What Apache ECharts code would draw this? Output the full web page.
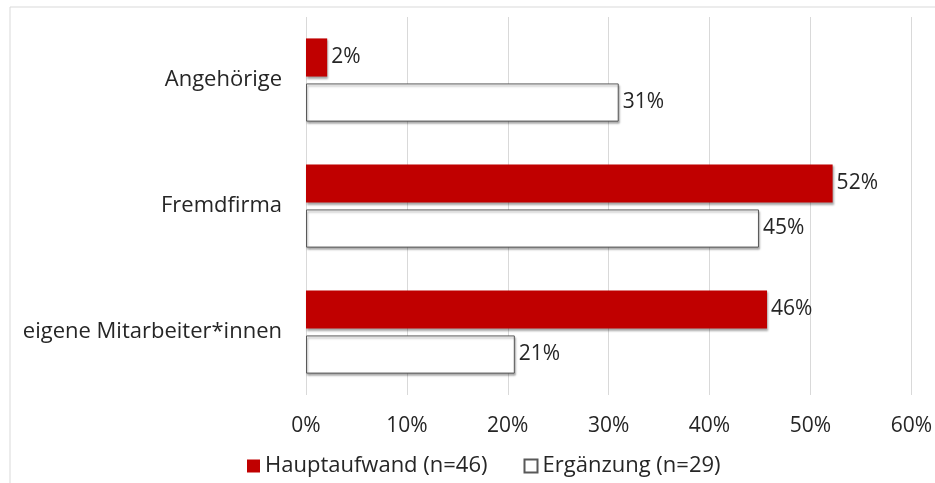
<!DOCTYPE html>
<html>
<head>
<meta charset="utf-8">
<script src="https://cdn.jsdelivr.net/npm/echarts@6/dist/echarts.min.js"></script>
<style>
  html, body { margin: 0; padding: 0; background: #fff; }
  #chart { width: 935px; height: 483px; }
</style>
</head>
<body>
<div id="chart"></div>
<script>
const categories = ['Angehörige', 'Fremdfirma', 'eigene Mitarbeiter*innen']
const hauptaufwand = [2.1, 52.2, 45.7]
const ergaenzung = [31, 44.9, 20.7]
const xTicks = [0, 10, 20, 30, 40, 50, 60]

const font = 'Open Sans'
const textColor = '#262626'
const chart = echarts.init(document.getElementById('chart'))

const labelStyle = {
  show: true,
  position: 'right',
  distance: 4,
  fontFamily: font,
  fontSize: 21,
  color: textColor,
  formatter: p => Math.round(p.value) + '%'
}

const option = {
  animation: false,
  graphic: [{
    type: 'rect',
    shape: { x: 10, y: 7, width: 940, height: 490 },
    style: { fill: 'none', stroke: '#d9d9d9', lineWidth: 1 }
  }],
  grid: { left: 306, right: 20, top: 17, bottom: 88 },
  legend: {
    left: 242,
    top: 450,
    itemWidth: 13,
    itemHeight: 13,
    itemGap: 36,
    icon: 'rect',
    textStyle: { fontFamily: font, fontSize: 22, color: textColor },
    data: ['Hauptaufwand (n=46)', 'Ergänzung (n=29)']
  },
  xAxis: {
    type: 'value',
    min: xTicks[0],
    max: xTicks[xTicks.length - 1],
    interval: 10,
    axisLine: { show: false },
    axisTick: { show: false },
    splitLine: { lineStyle: { color: '#d9d9d9' } },
    axisLabel: {
      margin: 21,
      fontFamily: font,
      fontSize: 21,
      color: textColor,
      formatter: '{value}%'
    }
  },
  yAxis: {
    type: 'category',
    inverse: true,
    data: categories,
    axisLine: { show: false },
    axisTick: { show: false },
    axisLabel: {
      margin: 24,
      fontFamily: font,
      fontSize: 22,
      color: textColor
    }
  },
  series: [
    {
      name: 'Hauptaufwand (n=46)',
      type: 'bar',
      data: hauptaufwand,
      barGap: '18%',
      barCategoryGap: '34%',
      itemStyle: {
        color: '#c00000',
        shadowColor: 'rgba(0,0,0,0.35)',
        shadowBlur: 2,
        shadowOffsetX: 1,
        shadowOffsetY: 2
      },
      label: labelStyle
    },
    {
      name: 'Ergänzung (n=29)',
      type: 'bar',
      data: ergaenzung,
      itemStyle: {
        color: '#ffffff',
        borderColor: '#595959',
        borderWidth: 1,
        shadowColor: 'rgba(0,0,0,0.35)',
        shadowBlur: 2,
        shadowOffsetX: 1,
        shadowOffsetY: 2
      },
      label: labelStyle
    }
  ]
}

chart.setOption(option)
</script>
</body>
</html>
